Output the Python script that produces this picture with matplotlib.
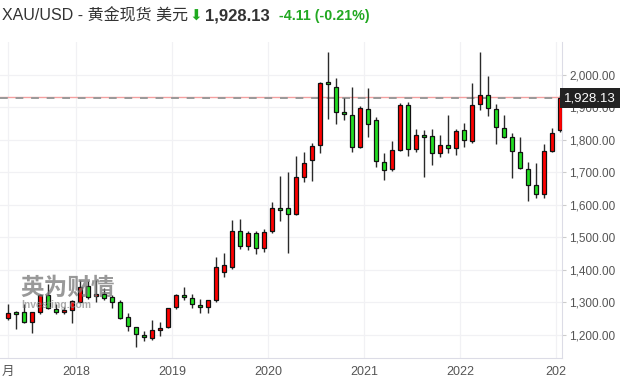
import matplotlib
matplotlib.use("Agg")
import matplotlib.pyplot as plt
import numpy as np

# Monthly XAU/USD candles, Apr 2017 .. Jan 2023
opens = [1251, 1270, 1270, 1241, 1270, 1323, 1280, 1269, 1276,
         1302, 1349, 1319, 1325, 1316, 1301, 1254, 1224, 1199, 1192, 1214, 1224,
         1285, 1323, 1313, 1292, 1285, 1308, 1392, 1410, 1520, 1472, 1515, 1466,
         1519, 1590, 1590, 1571, 1685, 1737, 1784, 1978, 1964, 1886, 1876, 1778,
         1896, 1860, 1731, 1710, 1768, 1907, 1771, 1814, 1811, 1759, 1784, 1775,
         1831, 1796, 1911, 1937, 1894, 1836, 1808, 1764, 1710, 1661, 1633, 1767,
         1831]
highs = [1294, 1274, 1295, 1272, 1326, 1357, 1295, 1287, 1307,
         1369, 1367, 1369, 1345, 1322, 1308, 1267, 1224, 1213, 1246, 1239, 1284,
         1326, 1347, 1325, 1310, 1308, 1439, 1451, 1554, 1557, 1520, 1520, 1525,
         1610, 1689, 1700, 1751, 1764, 1790, 1979, 2070, 1990, 1930, 1964, 1905,
         1959, 1869, 1759, 1795, 1913, 1917, 1834, 1831, 1834, 1814, 1877, 1833,
         1853, 1974, 2070, 1995, 1909, 1877, 1821, 1808, 1733, 1728, 1786, 1835,
         1938]
lows = [1246, 1218, 1238, 1205, 1265, 1279, 1264, 1264, 1238,
        1300, 1310, 1302, 1308, 1284, 1248, 1213, 1162, 1180, 1183, 1198, 1222,
        1281, 1306, 1282, 1267, 1266, 1300, 1379, 1402, 1465, 1462, 1449, 1455,
        1513, 1549, 1451, 1568, 1670, 1672, 1759, 1864, 1849, 1861, 1764, 1775,
        1810, 1718, 1677, 1705, 1765, 1749, 1764, 1685, 1723, 1746, 1759, 1754,
        1779, 1790, 1892, 1874, 1787, 1805, 1682, 1710, 1613, 1620, 1620, 1764,
        1823]
closes = [1267, 1264, 1241, 1270, 1323, 1282, 1272, 1276, 1305,
          1347, 1318, 1326, 1315, 1300, 1253, 1226, 1202, 1193, 1214, 1220, 1282,
          1323, 1316, 1294, 1285, 1306, 1408, 1415, 1520, 1472, 1513, 1466, 1517,
          1590, 1583, 1571, 1685, 1728, 1781, 1974, 1971, 1885, 1879, 1778, 1897,
          1848, 1734, 1708, 1768, 1907, 1771, 1814, 1808, 1759, 1784, 1775, 1827,
          1800, 1907, 1937, 1898, 1839, 1808, 1767, 1713, 1661, 1633, 1767, 1822,
          1928.13]

year_tick_pos = [0, 8.5, 20.5, 32.5, 44.5, 56.5, 68.5]
year_tick_labels = ["月", "2018", "2019", "2020", "2021", "2022", "202"]
price_ticks = [1200, 1300, 1400, 1500, 1600, 1700, 1800, 1900, 2000]
last_price = 1928.13
prev_close = 1932.24

UP = "#ff0000"
DOWN = "#22dd22"

plt.rcParams['font.family'] = ['Liberation Sans', 'Noto Sans CJK SC', 'DejaVu Sans']

fig = plt.figure(figsize=(6.23, 3.86), dpi=100)
ax = fig.add_axes([0.0, (386 - 358) / 386, 562 / 623, (358 - 42) / 386])

x = np.arange(len(opens))
o = np.array(opens, float); c = np.array(closes, float)
h = np.array(highs, float); l = np.array(lows, float)
up = c >= o
colors = [UP if u else DOWN for u in up]
bottoms = np.minimum(o, c)
heights = np.maximum(np.abs(c - o), 3)

ax.vlines(x, l, h, color="#2a2a2a", linewidth=1.0, zorder=2)
ax.bar(x, heights, bottom=bottoms, width=0.62, color=colors,
       edgecolor="#111111", linewidth=0.9, zorder=3)

ax.set_xlim(-1, 69.25)
ax.set_ylim(1129, 2101)

ax.axhline(prev_close, color="#f4a0a0", linewidth=1.0, zorder=1)
ax.axhline(last_price, color="#999999", linewidth=1.4, linestyle=(0, (4, 4)), zorder=1.5)

ax.set_xticks(year_tick_pos)
ax.set_xticklabels(year_tick_labels, fontsize=9, color="#555555")
ax.set_yticks(price_ticks)
ax.set_yticklabels([f"{v:,.2f}" for v in price_ticks], fontsize=8.5, color="#555555")
ax.yaxis.tick_right()
ax.tick_params(axis='y', length=3, color="#cccccc", pad=2)
ax.tick_params(axis='x', length=0, pad=6)
ax.grid(True, color="#f1f1f4", linewidth=0.9, zorder=0)
ax.set_axisbelow(True)
for s in ["top", "left"]:
    ax.spines[s].set_visible(False)
ax.spines["right"].set_color("#dcdce6")
ax.spines["bottom"].set_color("#dcdce6")

# last price label
ax.text(1.004, last_price, f"{last_price:,.2f}", transform=ax.get_yaxis_transform(),
        ha="left", va="center", fontsize=9.5, color="white", zorder=10,
        bbox=dict(boxstyle="square,pad=0.3", facecolor="#222222", edgecolor="none"),
        clip_on=False)

# watermark
fig.text(20 / 623, 1 - 288 / 386, "英为财情", fontsize=17, fontweight="bold",
         color="#777777", alpha=0.75, family=["Noto Sans CJK SC"], va="center", ha="left")
fig.text(21 / 623, 1 - 305 / 386, "Investing.com", fontsize=7.5, fontweight="bold",
         color="#888888", alpha=0.7, va="center", ha="left")

# header
fy = 1 - 16 / 386
fig.text(2 / 623, fy, "XAU/USD - 黄金现货 美元", fontsize=11.5, color="#333333",
         va="center", ha="left")
fig.text(196 / 623, fy, "⬇", fontsize=11, color="#1faa1f", va="center", ha="center",
         family=["DejaVu Sans"])
fig.text(205 / 623, fy, "1,928.13", fontsize=12, fontweight="bold", color="#333333",
         va="center", ha="left")
fig.text(279 / 623, fy, "-4.11 (-0.21%)", fontsize=10.3, fontweight="bold", color="#22a822",
         va="center", ha="left")

fig.savefig("out.png", dpi=100)
